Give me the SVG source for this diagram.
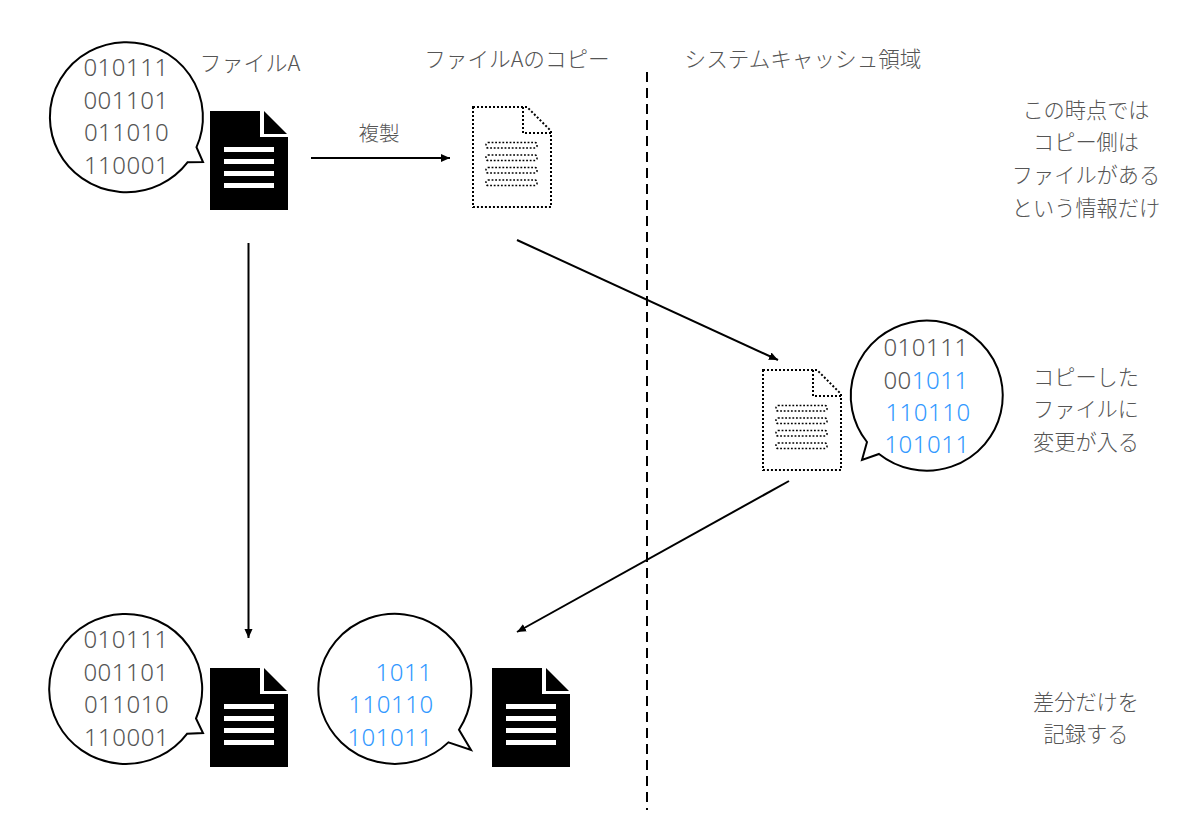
<svg xmlns="http://www.w3.org/2000/svg" xmlns:xlink="http://www.w3.org/1999/xlink" width="1200" height="825" viewBox="0 0 1200 825">
<style>
text{font-family:"Noto Sans CJK JP","Noto Sans",sans-serif;fill:#555;font-weight:300}
.t{font-size:21.600px;text-anchor:middle}
.s{font-size:21.200px}
.n{font-family:"Noto Sans","Noto Sans CJK JP",sans-serif;font-size:24px;letter-spacing:0.5px;text-anchor:middle}
.b{fill:#3399ff}
.bubble{fill:#fff;stroke:#000;stroke-width:2;stroke-linejoin:miter}
.ln{stroke:#000;stroke-width:2;fill:none}
.dot{fill:#fff;stroke:#000;stroke-width:2;stroke-dasharray:2 2}
.dotl{fill:none;stroke:#000;stroke-width:2;stroke-dasharray:2 2}
.rows{fill:none;stroke:#000;stroke-width:1.500;stroke-dasharray:1.800 1.800}
</style>
<defs>
<marker id="ah" markerUnits="userSpaceOnUse" markerWidth="12" markerHeight="10" refX="9" refY="5" orient="auto"><path d="M0,1 L9,5 L0,9 Z" fill="#000"/></marker>
<g id="docSolid">
<path d="M0,0 H50 V26 H78 V99 H0 Z" fill="#000"/>
<path d="M54,0 L77,23 H54 Z" fill="#000"/>
<g fill="#fff"><rect x="14" y="36" width="50" height="5"/><rect x="14" y="48" width="50" height="5"/><rect x="14" y="60" width="50" height="5"/><rect x="14" y="72" width="50" height="5"/></g>
</g>
<g id="docDotted">
<path class="dot" d="M0,0 H54 L78,24 V100 H0 Z"/>
<path class="dotl" d="M50,0 V26 H78"/>
<g class="rows"><rect x="13" y="35.500" width="51" height="5.500" rx="2"/><rect x="13" y="48" width="51" height="5.500" rx="2"/><rect x="13" y="60.500" width="51" height="5.500" rx="2"/><rect x="13" y="73" width="51" height="5.500" rx="2"/></g>
</g>
</defs>
<rect width="1200" height="825" fill="#fff"/>

<g id="connectors">
<path class="ln" d="M311,158 H450" marker-end="url(#ah)"/>
<path class="ln" d="M248.500,243 V638" marker-end="url(#ah)"/>
<path class="ln" d="M517,240 L778,360" marker-end="url(#ah)"/>
<path class="ln" d="M789,481 L517,632" marker-end="url(#ah)"/>
<path d="M647,72 V810" fill="none" stroke="#000" stroke-width="2" stroke-dasharray="10 6"/>
<text class="t" x="379" y="141" style="font-size:20.500px">複製</text>
</g>

<g id="file-a">
<path class="bubble" d="M196.500,147.200 A76.500,75 0 1 0 187.500,162.300 L203,162 Z"/>
<text class="n" x="126" y="76">010111</text><text class="n" x="126" y="109">001101</text><text class="n" x="126.500" y="141">011010</text><text class="n" x="126.500" y="174">110001</text>
<use xlink:href="#docSolid" href="#docSolid" x="210" y="111"/>
<text class="t" x="250" y="71" style="font-size:22px">ファイルA</text>
</g>

<g id="file-a-copy">
<use xlink:href="#docDotted" href="#docDotted" x="473" y="107"/>
<text class="t" x="517" y="67">ファイルAのコピー</text>
</g>

<text class="t" x="803" y="67">システムキャッシュ領域</text>

<g id="note-1">
<text class="t s" x="1086" y="118">この時点では</text>
<text class="t s" x="1086" y="150">コピー側は</text>
<text class="t s" x="1086" y="183">ファイルがある</text>
<text class="t s" x="1086" y="216">という情報だけ</text>
</g>

<g id="changed-copy">
<use xlink:href="#docDotted" href="#docDotted" x="763" y="370"/>
<path class="bubble" d="M867,442 A76,75 0 1 1 879,454 L862,460 Z"/>
<text class="n" x="926" y="356">010111</text>
<text class="n" x="926" y="389">00<tspan class="b">1011</tspan></text>
<text class="n b" x="928" y="421">110110</text>
<text class="n b" x="927" y="453">101011</text>
</g>

<g id="note-2">
<text class="t s" x="1086" y="385">コピーした</text>
<text class="t s" x="1086" y="417">ファイルに</text>
<text class="t s" x="1086" y="450">変更が入る</text>
</g>

<g id="file-a-base">
<path class="bubble" d="M196,718.500 A76.500,75 0 1 0 187,733.800 L203,733 Z"/>
<text class="n" x="126" y="648">010111</text><text class="n" x="126" y="681">001101</text><text class="n" x="126.500" y="713">011010</text><text class="n" x="126.500" y="746">110001</text>
<use xlink:href="#docSolid" href="#docSolid" x="210" y="668"/>
</g>

<g id="file-a-diff">
<path class="bubble" d="M459,729.700 A76.500,75 0 1 0 448.400,742.400 L471,750 Z"/>
<text class="n b" x="404" y="681">1011</text>
<text class="n b" x="391" y="713">110110</text>
<text class="n b" x="390" y="746">101011</text>
<use xlink:href="#docSolid" href="#docSolid" x="492" y="668"/>
</g>

<g id="note-3">
<text class="t s" x="1086" y="710">差分だけを</text>
<text class="t s" x="1086" y="742">記録する</text>
</g>
</svg>
